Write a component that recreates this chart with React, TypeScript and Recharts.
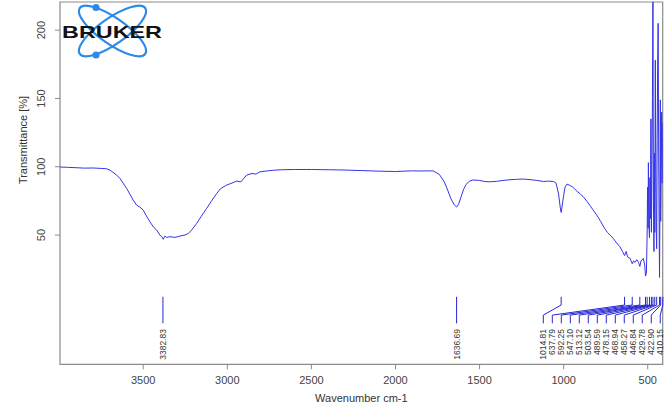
import React from "react";
import {
  LineChart,
  Line,
  XAxis,
  YAxis,
  ReferenceLine,
  ReferenceArea,
  ReferenceDot,
} from "recharts";

// IR spectrum
const WAVENUMBER = [
  3995, 3950, 3900, 3850, 3800, 3750, 3717, 3698, 3658, 3639, 3599, 3575, 3560,
  3540, 3520, 3500, 3484, 3460, 3440, 3420, 3401, 3391, 3381, 3371, 3361, 3341,
  3311, 3282, 3252, 3232, 3212, 3182, 3157, 3123, 3097, 3063, 3038, 3004, 2978,
  2945, 2919, 2885, 2853, 2830, 2806, 2760, 2720, 2680, 2600, 2500, 2400, 2300,
  2200, 2100, 2000, 1950, 1900, 1850, 1800, 1775, 1740, 1710, 1690, 1670, 1650,
  1636.69, 1625, 1610, 1595, 1580, 1560, 1540, 1500, 1470, 1440, 1400, 1360,
  1320, 1280, 1240, 1200, 1160, 1120, 1090, 1060, 1045, 1030, 1020, 1014.81,
  1008, 1000, 992, 980, 965, 945, 920, 900, 880, 860, 840, 820, 800, 780, 760,
  740, 720, 705, 690, 665, 650, 637.79, 628, 620, 605, 592.25, 585, 575, 565,
  555, 547.1, 540, 526, 518, 513.12, 508, 503.54, 501, 498, 496, 493, 489.59,
  487, 484, 481, 478.15, 475, 472, 469, 466, 463, 460, 458, 455, 452, 449,
  446.84, 444, 441, 438, 435, 432, 429.78, 427, 425, 422.9, 420, 417, 414, 411,
];
const TRANSMITTANCE = [
  99.8, 99.6, 99.3, 99.0, 99.1, 98.8, 98.5, 97.6, 93.9, 91.5, 84.2, 79.0, 75.6,
  72.0, 70.5, 68.3, 64.6, 59.7, 56.0, 53.7, 50.0, 49.0, 46.9, 49.3, 48.3, 48.8,
  48.3, 49.3, 50.0, 51.2, 53.7, 58.6, 63.4, 69.5, 74.4, 80.5, 84.2, 86.6, 87.8,
  89.5, 89.0, 93.9, 95.1, 94.6, 96.3, 97.0, 97.5, 97.8, 98.0, 98.0, 97.8, 97.6,
  97.2, 96.8, 96.5, 96.8, 97.0, 96.9, 97.0, 96.9, 94.5, 89.0, 83.0, 76.5, 72.0,
  70.5, 72.5, 78.0, 83.5, 87.0, 89.5, 90.3, 90.0, 89.2, 89.0, 89.3, 90.0, 90.5,
  90.8, 91.0, 90.6, 90.0, 89.2, 89.5, 89.2, 88.0, 80.0, 70.0, 66.5, 72.0, 79.0,
  85.0, 87.3, 86.5, 85.0, 82.0, 80.0, 77.5, 74.5, 71.0, 67.5, 64.0, 60.0, 55.5,
  52.0, 49.5, 47.5, 45.0, 41.4, 38.0, 35.0, 38.0, 34.0, 33.0, 29.0, 31.0, 30.0,
  32.0, 30.0, 27.0, 31.0, 33.0, 28.0, 20.0, 22.0, 50.0, 85.0, 55.0, 103.0,
  58.0, 48.0, 92.0, 62.0, 135.0, 52.0, 100.0, 150.0, 225.0, 75.0, 38.0, 110.0,
  52.0, 178.0, 95.0, 51.0, 40.0, 120.0, 175.0, 205.0, 110.0, 55.0, 19.0, 80.0,
  149.0, 60.0, 95.0, 140.0, 88.0, 132.0,
];

// picked peaks (single ones and the crowded group near the right edge)
const SINGLE_PEAKS = [3382.83, 1636.69];
const GROUP_PEAKS = [
  1014.81, 637.79, 592.25, 547.1, 513.12, 503.54, 489.59, 478.15, 468.94,
  458.27, 446.84, 429.78, 422.9, 410.15,
];
const X_TICKS = [3500, 3000, 2500, 2000, 1500, 1000, 500];
const Y_TICKS = [50, 100, 150, 200];

const X_DOMAIN: [number, number] = [411, 3995];
const Y_DOMAIN: [number, number] = [-44.6, 220.6];

// peak marker geometry in data units
const MARK_TOP = 4.8;
const MARK_KNEE = -1.2;
const MARK_FOOT = -8.6;
const MARK_END = -14.6;
const LABEL_Y = -18.8;
const GROUP_LABEL_START = 1121;
const GROUP_LABEL_STEP = 53.5;

const SPECTRUM = "#3434e8";
const FRAME = "#8a8a8a";
const TEXT = "#444";

const data = WAVENUMBER.map((w, i) => ({ w, t: TRANSMITTANCE[i] }));

const peaks = [
  ...SINGLE_PEAKS.map((w) => ({ w, lw: w })),
  ...GROUP_PEAKS.map((w, i) => ({
    w,
    lw: GROUP_LABEL_START - GROUP_LABEL_STEP * i,
  })),
];

function YTick({ x, y, payload }: any) {
  const cx = x - 12;
  return (
    <text
      x={cx}
      y={y}
      transform={`rotate(-90, ${cx}, ${y})`}
      textAnchor="middle"
      dominantBaseline="central"
      fontSize={11}
      fill={TEXT}
    >
      {payload.value}
    </text>
  );
}

function PeakLabel({ cx, cy, text }: any) {
  return (
    <text
      x={cx}
      y={cy}
      transform={`rotate(-90, ${cx}, ${cy})`}
      textAnchor="end"
      dominantBaseline="central"
      fontSize={8.5}
      fill="#333"
    >
      {text}
    </text>
  );
}

function BrukerLogo() {
  return (
    <svg
      width={170}
      height={62}
      style={{ position: "absolute", left: 0, top: 0, pointerEvents: "none" }}
    >
      <g fill="none" stroke="#2d8ae6" strokeWidth={2.2}>
        <ellipse cx={112.5} cy={31} rx={40} ry={13} transform="rotate(35 112.5 31)" />
        <ellipse cx={112.5} cy={31} rx={40} ry={13} transform="rotate(-35 112.5 31)" />
      </g>
      <circle cx={96} cy={7.5} r={3.6} fill="#2d8ae6" />
      <circle cx={96} cy={55} r={3.6} fill="#2d8ae6" />
      <text
        x={62}
        y={37.5}
        fontSize={17}
        fontWeight={900}
        fontFamily="'Liberation Sans', Arial, sans-serif"
        textLength={100}
        lengthAdjust="spacingAndGlyphs"
        fill="#111"
      >
        BRUKER
      </text>
    </svg>
  );
}

export default function App() {
  return (
    <div
      style={{
        position: "absolute",
        left: 0,
        top: 0,
        width: 669,
        height: 407,
        background: "#fff",
        fontFamily: "'Liberation Sans', Arial, sans-serif",
      }}
    >
      <LineChart
        width={669}
        height={407}
        data={data}
        margin={{ top: 2, right: 6.3, left: 0, bottom: 0 }}
      >
        <XAxis
          dataKey="w"
          type="number"
          domain={X_DOMAIN}
          reversed
          allowDataOverflow
          ticks={X_TICKS}
          height={42.7}
          axisLine={false}
          tickLine={{ stroke: FRAME }}
          tickSize={5}
          tickMargin={7}
          tick={{ fontSize: 11, fill: TEXT }}
          label={{
            value: "Wavenumber cm-1",
            position: "insideBottom",
            offset: 5,
            fontSize: 11,
            fill: "#333",
          }}
        />
        <YAxis
          type="number"
          domain={Y_DOMAIN}
          allowDataOverflow
          ticks={Y_TICKS}
          width={60}
          axisLine={false}
          tickLine={{ stroke: FRAME }}
          tickSize={5}
          tick={<YTick />}
          label={{
            content: () => (
              <text
                x={23.3}
                y={140}
                transform="rotate(-90, 23.3, 140)"
                textAnchor="middle"
                dominantBaseline="central"
                fontSize={11}
                fill="#333"
              >
                Transmittance [%]
              </text>
            ),
          }}
        />
        <ReferenceArea
          x1={X_DOMAIN[0]}
          x2={X_DOMAIN[1]}
          y1={Y_DOMAIN[0]}
          y2={Y_DOMAIN[1]}
          fill="none"
          stroke={FRAME}
          strokeWidth={1.2}
          ifOverflow="visible"
        />
        {peaks.map((p) => (
          <ReferenceLine
            key={`a${p.w}`}
            segment={[
              { x: p.w, y: MARK_TOP },
              { x: p.w, y: MARK_KNEE },
            ]}
            stroke="#2626d0"
            ifOverflow="visible"
          />
        ))}
        {peaks.map((p) => (
          <ReferenceLine
            key={`b${p.w}`}
            segment={[
              { x: p.w, y: MARK_KNEE },
              { x: p.lw, y: MARK_FOOT },
            ]}
            stroke="#2626d0"
            ifOverflow="visible"
          />
        ))}
        {peaks.map((p) => (
          <ReferenceLine
            key={`c${p.w}`}
            segment={[
              { x: p.lw, y: MARK_FOOT },
              { x: p.lw, y: MARK_END },
            ]}
            stroke="#2626d0"
            ifOverflow="visible"
          />
        ))}
        {peaks.map((p) => (
          <ReferenceDot
            key={`l${p.w}`}
            x={p.lw}
            y={LABEL_Y}
            r={0}
            ifOverflow="visible"
            shape={(props: any) => (
              <PeakLabel cx={props.cx} cy={props.cy} text={p.w.toFixed(2)} />
            )}
          />
        ))}
        <Line
          type="linear"
          dataKey="t"
          stroke={SPECTRUM}
          strokeWidth={1}
          dot={false}
          activeDot={false}
          isAnimationActive={false}
        />
      </LineChart>
      <BrukerLogo />
    </div>
  );
}
